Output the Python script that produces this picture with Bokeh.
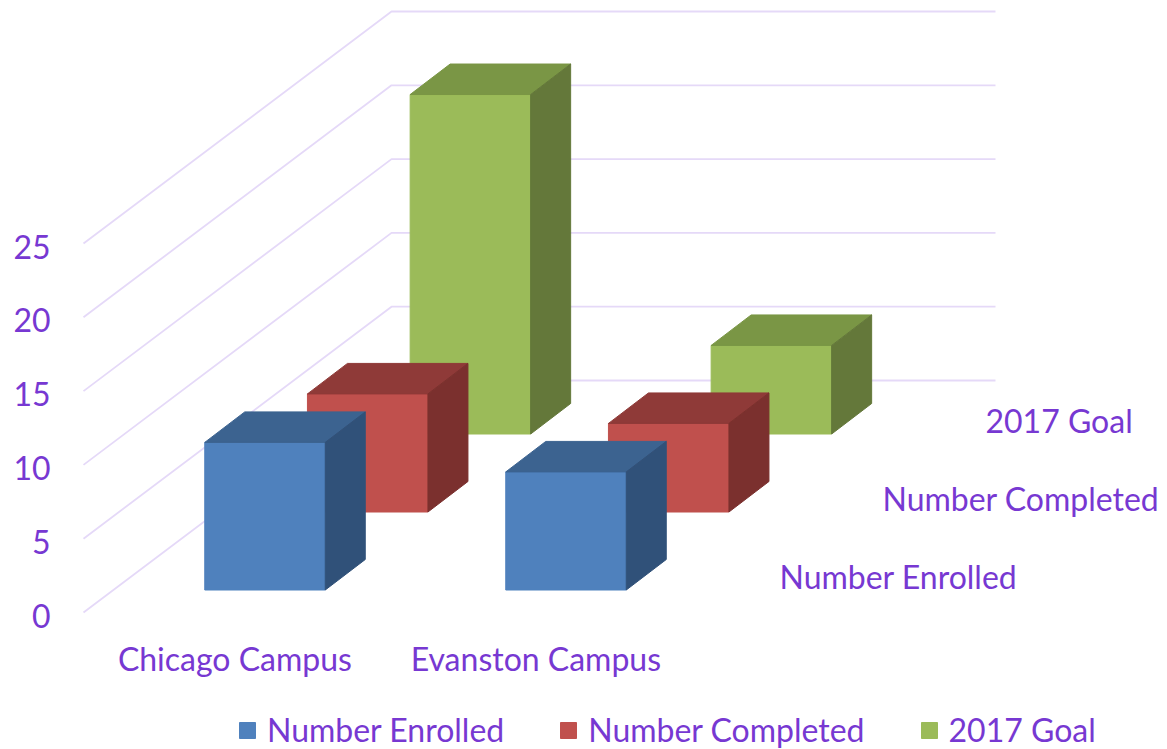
from bokeh.embed import file_html
from bokeh.resources import INLINE
from bokeh.plotting import figure
from bokeh.models import FixedTicker, Legend, LegendItem, Range1d
from bokeh.core.properties import value

categories = ["Chicago Campus", "Evanston Campus"]
series_names = ["Number Enrolled", "Number Completed", "2017 Goal"]
number_enrolled = [10, 8]
number_completed = [8, 6]
goal_2017 = [23, 6]
y_ticks = [0, 5, 10, 15, 20, 25]

front_colors = ["#4f81bd", "#c0504d", "#9bbb59"]
top_colors = ["#3c6390", "#8f3a38", "#7a9645"]
side_colors = ["#305179", "#7b302e", "#64783a"]
TEXT = "#7738d2"
GRID = "#e5d9f8"
FONT = "Lato"
FS = "32px"

PX_X = 301.0     # pixels per category
PX_Y = 14.76     # pixels per value unit
HALF = 120.5 / 2 / PX_X
BAR_DX, BAR_DY = 40 / PX_X, 30.5 / PX_Y
SER_DX, SER_DY = 102.7 / PX_X, 78 / PX_Y
BASE = 25.5 / PX_Y
WALL_DX, WALL_DY = 308 / PX_X, 232 / PX_Y
WALL_X0 = (83 - 264.5) / PX_X
WALL_END = (995 - 264.5) / PX_X
FLOOR = 3 / PX_Y

W, H = 1167, 749
AXIS_Y = 636
p = figure(width=W, height=H, output_backend="svg", toolbar_location=None,
           min_border_left=60, min_border_right=0, min_border_top=0, min_border_bottom=0,
           x_range=Range1d((60 - 264.5) / PX_X, (1167 - 264.5) / PX_X),
           y_range=Range1d((615 - H) / PX_Y, 615 / PX_Y))
p.outline_line_color = None
p.grid.visible = False
p.background_fill_color = "white"

# walls
for v in y_ticks:
    y0 = v + FLOOR
    p.line([WALL_X0, WALL_X0 + WALL_DX, WALL_END],
           [y0, y0 + WALL_DY, y0 + WALL_DY], line_color=GRID, line_width=1.8)

# bars, back to front
all_values = [number_enrolled, number_completed, goal_2017]
fronts = []
for d in (2, 1, 0):
    vals = all_values[d]
    left = [c - HALF + d * SER_DX for c in range(len(categories))]
    right = [c + HALF + d * SER_DX for c in range(len(categories))]
    bottom = [BASE + d * SER_DY] * len(vals)
    top = [b + v for b, v in zip(bottom, vals)]
    edge = {"line_width": 1}
    r = p.quad(left=left, right=right, bottom=bottom, top=top, fill_color=front_colors[d],
               line_color=front_colors[d], **edge)
    fronts.append((d, r))
    p.patches(xs=[[l, r_, r_ + BAR_DX, l + BAR_DX] for l, r_ in zip(left, right)],
              ys=[[t, t, t + BAR_DY, t + BAR_DY] for t in top],
              fill_color=top_colors[d], line_color=top_colors[d], **edge)
    p.patches(xs=[[r_, r_ + BAR_DX, r_ + BAR_DX, r_] for r_ in right],
              ys=[[b, b + BAR_DY, t + BAR_DY, t] for b, t in zip(bottom, top)],
              fill_color=side_colors[d], line_color=side_colors[d], **edge)

# depth axis labels
p.text(x=[(779 - 264.5 + d * 103) / PX_X for d in range(3)],
       y=[(615 - 575.5 + d * 78) / PX_Y for d in range(3)],
       text=series_names, text_color=TEXT, text_font=value(FONT), text_font_size=value(FS),
       text_align="left", text_baseline="middle")

# axes
p.yaxis.ticker = FixedTicker(ticks=y_ticks)
p.yaxis.axis_line_color = None
p.yaxis.major_tick_line_color = None
p.yaxis.minor_tick_line_color = None
p.yaxis.major_tick_out = 0
p.yaxis.major_label_text_color = TEXT
p.yaxis.major_label_text_font = FONT
p.yaxis.major_label_text_font_size = FS
p.yaxis.major_label_standoff = 10

ticks = [c - 0.1 for c in range(len(categories))]
p.xaxis.ticker = FixedTicker(ticks=ticks)
p.xaxis.major_label_overrides = dict(zip(ticks, categories))
p.xaxis.fixed_location = (615 - AXIS_Y) / PX_Y
p.xaxis.axis_line_color = None
p.xaxis.major_tick_line_color = None
p.xaxis.minor_tick_line_color = None
p.xaxis.major_tick_out = 0
p.xaxis.major_label_text_color = TEXT
p.xaxis.major_label_text_font = FONT
p.xaxis.major_label_text_font_size = FS
p.xaxis.major_label_standoff = 2

lookup = dict(fronts)
legend = Legend(items=[LegendItem(label=series_names[d], renderers=[lookup[d]]) for d in range(3)],
                orientation="horizontal", location=(177, 0), glyph_width=20, glyph_height=20,
                label_standoff=10, spacing=54, padding=0, margin=0,
                border_line_color=None, background_fill_alpha=0,
                label_text_color=TEXT, label_text_font=FONT, label_text_font_size=FS)
p.add_layout(legend, "center")

open("out.html", "w").write(file_html(p, INLINE))
